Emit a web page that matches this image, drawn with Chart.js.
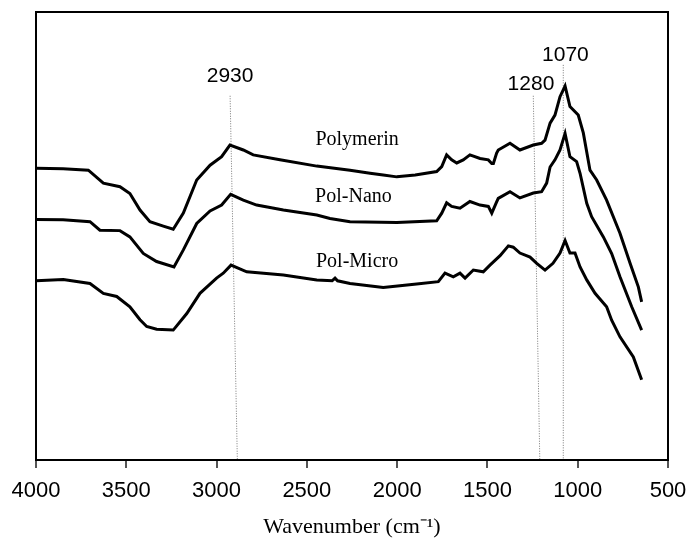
<!DOCTYPE html>
<html>
<head>
<meta charset="utf-8">
<script src="https://cdn.jsdelivr.net/npm/chart.js@4.4.1/dist/chart.umd.min.js"></script>
<style>
    html, body { margin:0; padding:0; background:#fff; }
    #wrap { width:692px; height:540px; }
</style>
</head>
<body>
<div id="wrap"><canvas id="graficoIR"></canvas></div>
<script>

// wavenumbers (cm-1) and relative intensity
const ondaPolymerin = [4000,3850,3710,3627,3535,3480,3424,3369,3295,3240,3184,3110,3036,2972,2926,2852,2797,2649,2445,2261,2150,2077,2002,1900,1781,1753,1726,1698,1670,1634,1597,1541,1495,1476,1467,1449,1440,1375,1320,1246,1200,1181,1153,1126,1098,1070,1043,997,969,932,895,840,766,710,664,646];
const valPolymerin  = [65.1,65.0,64.7,61.8,61.0,59.5,55.8,53.2,52.2,51.5,55.1,62.5,65.8,67.7,70.3,69.2,68.1,67.0,65.6,64.7,64.0,63.6,63.2,63.6,64.4,65.5,68.1,67.0,66.3,67.0,68.1,67.3,67.0,66.2,66.2,68.5,69.2,70.7,69.2,70.3,70.7,71.4,75.2,77.0,81.1,83.5,78.9,77.0,73.0,64.7,62.5,58.0,50.6,43.9,38.6,35.3];

const ondaNano = [4000,3850,3701,3646,3535,3480,3406,3332,3236,3184,3110,3036,2972,2922,2852,2778,2630,2445,2372,2261,2002,1781,1753,1726,1698,1652,1597,1541,1495,1476,1449,1440,1375,1320,1246,1200,1172,1153,1126,1098,1070,1043,1006,987,950,923,858,812,766,701,646];
const valNano  = [53.7,53.6,53.2,51.3,51.2,49.8,46.1,44.3,43.1,46.9,52.8,55.6,56.9,59.3,58.0,56.9,55.8,54.7,53.9,53.2,53.0,53.4,55.1,57.4,56.6,56.2,57.7,56.9,56.6,55.1,57.6,58.4,59.9,58.5,59.6,59.9,61.8,65.4,67.0,69.2,72.9,67.7,66.6,64.0,57.3,54.3,49.8,46.1,40.9,34.2,29.0];

const ondaMicro = [4000,3849,3701,3627,3553,3480,3424,3387,3332,3240,3165,3092,3000,2963,2920,2833,2630,2445,2360,2344,2330,2261,2077,1892,1772,1735,1689,1652,1624,1578,1523,1486,1430,1384,1357,1320,1264,1227,1181,1137,1098,1070,1043,1015,987,950,904,840,812,766,692,646];
const valMicro  = [40.0,40.3,39.4,37.2,36.5,34.2,31.3,29.8,29.2,29.0,32.7,37.2,40.6,41.7,43.5,42.0,41.3,40.2,40.0,40.6,40.0,39.4,38.5,39.3,39.8,41.7,40.9,41.7,40.6,42.4,42.0,43.5,45.6,47.8,47.5,46.2,45.3,43.9,42.4,43.9,46.2,49.0,46.2,46.2,43.1,40.2,37.2,34.2,31.2,27.5,23.0,17.9];

const nombres = ["Polymerin","Pol-Nano","Pol-Micro"];
const nombreX = [2222,2242,2222];
const nombreY = [71.4,58.8,44.3];

// dotted guide lines with their peak labels
const picoTexto   = ["2930","1280","1070"];
const picoArribaX = [2925,1246,1080];
const picoArribaY = [81.3,81.3,88.2];
const picoAbajoX  = [2885,1210,1080];
const picoTextoX  = [2925,1259,1068];
const picoTextoY  = [85.7,83.8,90.3];

const puntos = (xs, ys) => xs.map((x, i) => ({ x:x, y:ys[i] }));

const dibujarExtras = {
    id:"extras",
    beforeDatasetsDraw(chart){
        const ctx = chart.ctx;
        const sx = chart.scales.x;
        const sy = chart.scales.y;
        const area = chart.chartArea;
        ctx.save();
        ctx.strokeStyle = "#777";
        ctx.lineWidth = 1;
        ctx.setLineDash([1,1.5]);
        picoTexto.forEach((t, i) => {
            ctx.beginPath();
            ctx.moveTo(sx.getPixelForValue(picoArribaX[i]), sy.getPixelForValue(picoArribaY[i]));
            ctx.lineTo(sx.getPixelForValue(picoAbajoX[i]), area.bottom);
            ctx.stroke();
        });
        ctx.restore();
    },
    afterDraw(chart){
        const ctx = chart.ctx;
        const sx = chart.scales.x;
        const sy = chart.scales.y;
        const area = chart.chartArea;
        ctx.save();
        ctx.strokeStyle = "#000";
        ctx.lineWidth = 2;
        ctx.strokeRect(area.left, area.top, area.right - area.left, area.bottom - area.top);

        ctx.fillStyle = "#000";
        ctx.textAlign = "center";
        ctx.textBaseline = "middle";
        ctx.font = "21px 'Liberation Sans', Arial, sans-serif";
        picoTexto.forEach((t, i) => {
            ctx.fillText(t, sx.getPixelForValue(picoTextoX[i]), sy.getPixelForValue(picoTextoY[i]));
        });

        ctx.font = "20px 'Liberation Serif', 'Times New Roman', serif";
        nombres.forEach((t, i) => {
            ctx.fillText(t, sx.getPixelForValue(nombreX[i]), sy.getPixelForValue(nombreY[i]));
        });
        ctx.restore();
    }
};

const serie = (nombre, datos) => ({
    label:nombre,
    data:datos,
    borderColor:"#000",
    borderWidth:3,
    pointRadius:0,
    tension:0,
    fill:false
});

new Chart(

    document.getElementById("graficoIR"),

    {
        type:"line",

        data:{
            datasets:[
                serie(nombres[0], puntos(ondaPolymerin, valPolymerin)),
                serie(nombres[1], puntos(ondaNano, valNano)),
                serie(nombres[2], puntos(ondaMicro, valMicro))
            ]
        },

        plugins:[dibujarExtras],

        options:{
            responsive:true,
            maintainAspectRatio:false,
            animation:false,
            layout:{ padding:{ left:36, right:24, top:12, bottom:0 } },
            plugins:{
                legend:{ display:false },
                tooltip:{ enabled:false }
            },
            scales:{
                x:{
                    type:"linear",
                    reverse:true,
                    min:500,
                    max:4000,
                    afterFit:(s) => {
                        s.height = 80;
                        s.paddingLeft = 0;
                        s.paddingRight = 0;
                    },
                    ticks:{
                        stepSize:500,
                        color:"#000",
                        padding:10,
                        maxRotation:0,
                        callback:(v) => String(v),
                        font:{ family:"'Liberation Sans', Arial, sans-serif", size:22 }
                    },
                    grid:{
                        drawOnChartArea:false,
                        drawTicks:true,
                        tickLength:8,
                        color:"#555",
                        lineWidth:2
                    },
                    border:{ display:false },
                    title:{
                        display:true,
                        text:"Wavenumber (cm⁻¹)",
                        color:"#000",
                        padding:{ top:0, bottom:0 },
                        font:{ family:"'Liberation Serif', 'Times New Roman', serif", size:22 }
                    }
                },
                y:{
                    display:false,
                    min:0,
                    max:100
                }
            }
        }
    }

);

</script>
</body>
</html>
